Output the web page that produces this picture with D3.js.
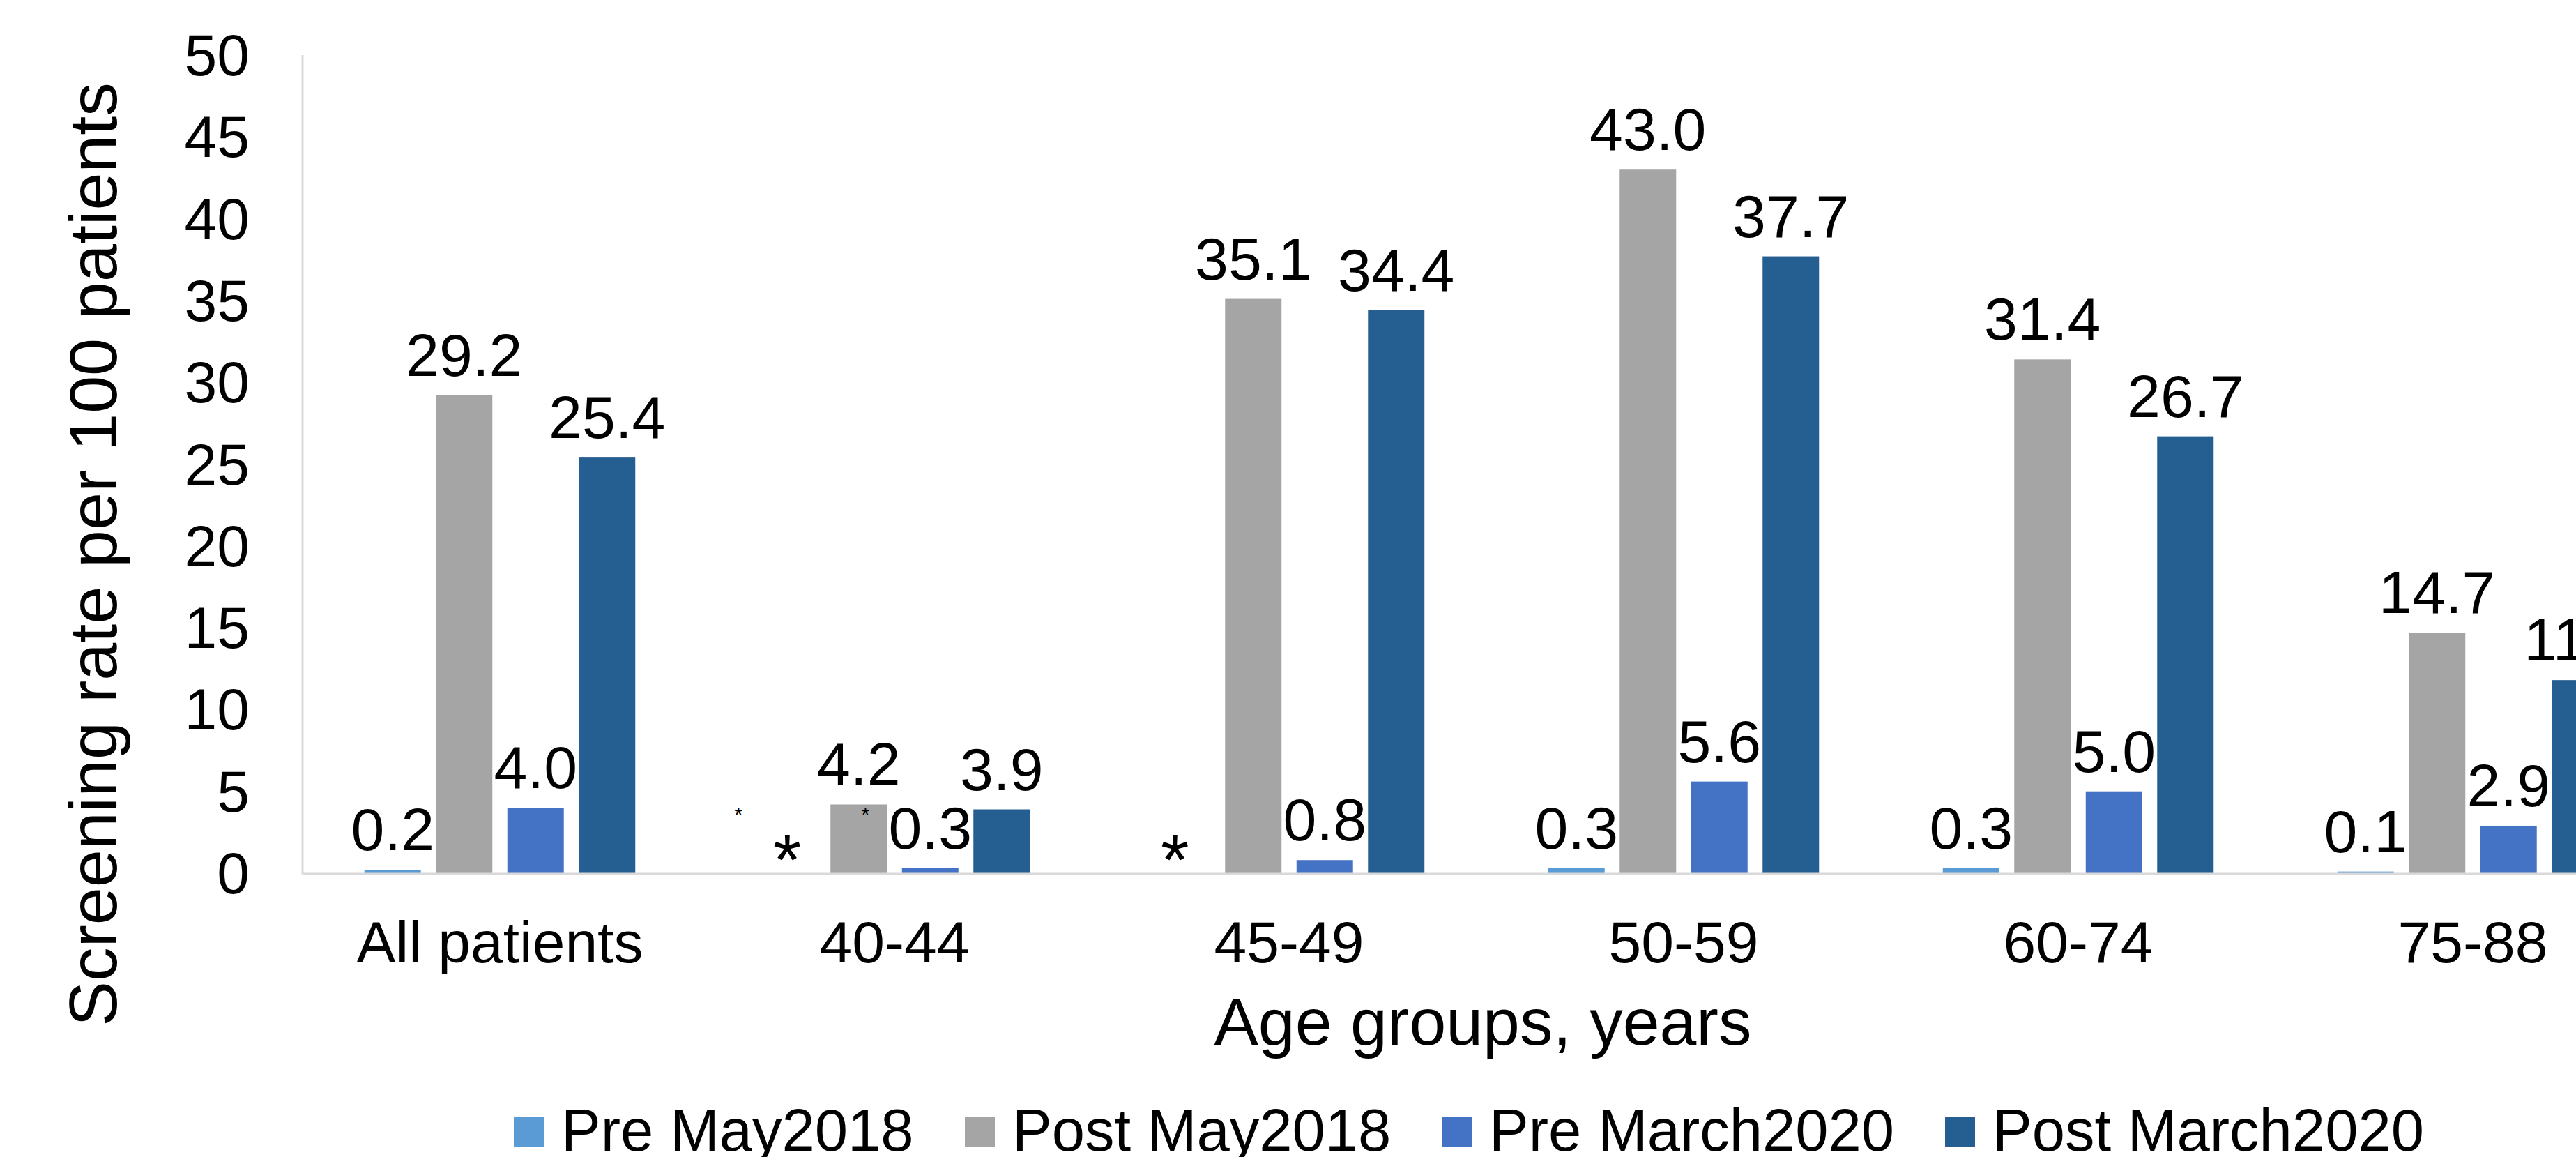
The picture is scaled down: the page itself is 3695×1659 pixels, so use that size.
<!DOCTYPE html>
<html>
<head>
<meta charset="utf-8">
<script src="https://cdn.jsdelivr.net/npm/d3@7"></script>
<style>
  body { margin: 0; background: #fff; }
  svg text { font-family: "Liberation Sans", Arial, sans-serif; fill: #000; }
</style>
</head>
<body>
<svg class="chart" width="3695" height="1659"></svg>
<script>
const categories = ["All patients", "40-44", "45-49", "50-59", "60-74", "75-88"]
const seriesNames = ["Pre May2018", "Post May2018", "Pre March2020", "Post March2020"]
const seriesColors = ["#5B9BD5", "#A5A5A5", "#4472C4", "#255E91"]
// null = suppressed value, shown as an asterisk
const preMay2018 = [0.2, null, null, 0.3, 0.3, 0.1]
const postMay2018 = [29.2, 4.2, 35.1, 43.0, 31.4, 14.7]
const preMarch2020 = [4.0, 0.3, 0.8, 5.6, 5.0, 2.9]
const postMarch2020 = [25.4, 3.9, 34.4, 37.7, 26.7, 11.8]
const yTicks = [0, 5, 10, 15, 20, 25, 30, 35, 40, 45, 50]

const seriesValues = [preMay2018, postMay2018, preMarch2020, postMarch2020]

const svg = d3.select("svg.chart")

// plot area runs past the right edge of the picture (the source is cropped)
const x0 = d3.scaleBand()
  .domain(categories)
  .range([434, 3830])

const x1 = d3.scaleBand()
  .domain(seriesNames)
  .range([0, x0.bandwidth()])
  .paddingInner(0.21)
  .paddingOuter(0.866)

const y = d3.scaleLinear()
  .domain([0, 50])
  .range([1252, 79])

const cells = []
categories.forEach((c, i) => {
  seriesNames.forEach((s, j) => {
    cells.push({ cat: c, series: s, color: seriesColors[j], value: seriesValues[j][i] })
  })
})

// y axis: labels only, plus a light grey line
const yAxis = svg.append("g")
  .attr("transform", "translate(434,0)")
  .call(d3.axisLeft(y).tickValues(yTicks).tickSize(0).tickPadding(76))
yAxis.select(".domain").remove()
yAxis.selectAll("text")
  .style("font-size", "84px")
  .attr("dy", "0.34em")

// x axis: category labels
const xAxis = svg.append("g")
  .attr("transform", "translate(0,1252)")
  .call(d3.axisBottom(x0).tickSize(0).tickPadding(68))
xAxis.select(".domain").remove()
xAxis.selectAll("text")
  .style("font-size", "84px")
  .attr("dy", "0.71em")

const bars = svg.append("g")
  .selectAll("rect")
  .data(cells.filter(d => d.value != null))
  .enter()
  .append("rect")
  .attr("x", d => x0(d.cat) + x1(d.series))
  .attr("y", d => y(d.value))
  .attr("width", x1.bandwidth())
  .attr("height", d => y(0) - y(d.value))
  .attr("fill", d => d.color)

// axis lines
svg.append("line")
  .attr("x1", 434).attr("x2", 434)
  .attr("y1", y(50)).attr("y2", y(0) + 1.5)
  .attr("stroke", "#D9D9D9").attr("stroke-width", 3)
svg.append("line")
  .attr("x1", 434).attr("x2", 3830)
  .attr("y1", y(0) + 1).attr("y2", y(0) + 1)
  .attr("stroke", "#D9D9D9").attr("stroke-width", 3)

// value labels
svg.append("g")
  .selectAll("text")
  .data(cells.filter(d => d.value != null))
  .enter()
  .append("text")
  .attr("x", d => x0(d.cat) + x1(d.series) + x1.bandwidth() / 2)
  .attr("y", d => y(d.value) - 28)
  .attr("text-anchor", "middle")
  .style("font-size", "86px")
  .text(d => d.value.toFixed(1))

// asterisks for suppressed values
const missing = cells.filter(d => d.value == null)
svg.append("g")
  .selectAll("text")
  .data(missing)
  .enter()
  .append("text")
  .attr("x", (d, i) => x0(d.cat) + x1(d.series) + x1.bandwidth() / 2 - i * 10)
  .attr("y", y(0) + 17)
  .attr("text-anchor", "middle")
  .style("font-size", "104px")
  .text("*")

// two small stray asterisks next to the 40-44 group
svg.append("g")
  .selectAll("text")
  .data([-70, 112])
  .enter()
  .append("text")
  .attr("x", d => x0("40-44") + x1("Pre May2018") + x1.bandwidth() / 2 + d)
  .attr("y", 1178)
  .attr("text-anchor", "middle")
  .style("font-size", "30px")
  .text("*")

// axis titles
svg.append("text")
  .attr("transform", "translate(167,795) rotate(-90)")
  .attr("text-anchor", "middle")
  .style("font-size", "97px")
  .text("Screening rate per 100 patients")

svg.append("text")
  .attr("x", 2127)
  .attr("y", 1498)
  .attr("text-anchor", "middle")
  .style("font-size", "95px")
  .text("Age groups, years")

// legend
const legendX = [737, 1384, 2068, 2790]
const legend = svg.append("g")
  .selectAll("g")
  .data(seriesNames)
  .enter()
  .append("g")
  .attr("transform", (d, i) => `translate(${legendX[i]}, 1601)`)

legend.append("rect")
  .attr("width", 43)
  .attr("height", 43)
  .attr("fill", (d, i) => seriesColors[i])

legend.append("text")
  .attr("x", 68)
  .attr("y", 49)
  .style("font-size", "85px")
  .text(d => d)
</script>
</body>
</html>
